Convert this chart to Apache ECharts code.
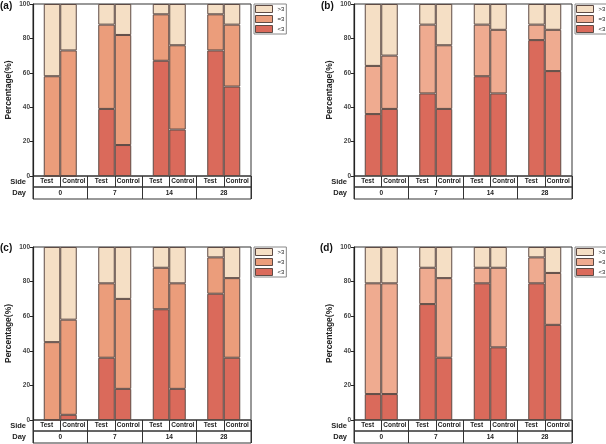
<!DOCTYPE html>
<html lang="en">
  <head>
    <meta charset="UTF-8" />
    <title>Percentage by day</title>
    <script src="https://cdn.jsdelivr.net/npm/echarts@6/dist/echarts.min.js"></script>
    <style>
      body { margin: 0; background: #fff; }
    </style>
  </head>
  <body>
    <div id="main" style="width: 606px; height: 444px"></div>
    <script>
      var days = ["0", "7", "14", "28"];
      var sides = ["Test", "Control"];
      var levels = ["<3", "=3", ">3"];

      // (a)
      var aTestLt = [0, 39, 67, 73];
      var aTestEq = [58, 49, 27, 21];
      var aTestGt = [42, 12, 6, 6];
      var aCtrlLt = [0, 18, 27, 52];
      var aCtrlEq = [73, 64, 49, 36];
      var aCtrlGt = [27, 18, 24, 12];
      // (b)
      var bTestLt = [36, 48, 58, 79];
      var bTestEq = [28, 40, 30, 9];
      var bTestGt = [36, 12, 12, 12];
      var bCtrlLt = [39, 39, 48, 61];
      var bCtrlEq = [31, 37, 37, 24];
      var bCtrlGt = [30, 24, 15, 15];
      // (c)
      var cTestLt = [0, 36, 64, 73];
      var cTestEq = [45, 43, 24, 21];
      var cTestGt = [55, 21, 12, 6];
      var cCtrlLt = [3, 18, 18, 36];
      var cCtrlEq = [55, 52, 61, 46];
      var cCtrlGt = [42, 30, 21, 18];
      // (d)
      var dTestLt = [15, 67, 79, 79];
      var dTestEq = [64, 21, 9, 15];
      var dTestGt = [21, 12, 12, 6];
      var dCtrlLt = [15, 36, 42, 55];
      var dCtrlEq = [64, 46, 46, 30];
      var dCtrlGt = [21, 18, 12, 15];

      var font = "Liberation Sans";
      var edge = "#5e4b45";
      var ltColor = "#da6a5b";
      var gtColor = "#f5dfc5";

      var panels = [
        { title: "(a)", tx: 0, ty: 1, left: 33, top: 4, h: 172, eq: "#eb9d7b",
          test: [aTestLt, aTestEq, aTestGt], ctrl: [aCtrlLt, aCtrlEq, aCtrlGt] },
        { title: "(b)", tx: 321, ty: 1, left: 354, top: 4, h: 172, eq: "#efab90",
          test: [bTestLt, bTestEq, bTestGt], ctrl: [bCtrlLt, bCtrlEq, bCtrlGt] },
        { title: "(c)", tx: 0, ty: 243, left: 33, top: 247, h: 173, eq: "#eb9d7b",
          test: [cTestLt, cTestEq, cTestGt], ctrl: [cCtrlLt, cCtrlEq, cCtrlGt] },
        { title: "(d)", tx: 320, ty: 243, left: 354, top: 247, h: 173, eq: "#efab90",
          test: [dTestLt, dTestEq, dTestGt], ctrl: [dCtrlLt, dCtrlEq, dCtrlGt] }
      ];

      var sideLabels = [];
      days.forEach(function () {
        sideLabels.push(sides[0], sides[1]);
      });

      var option = {
        animation: false,
        textStyle: { fontFamily: font },
        title: [], grid: [], xAxis: [], yAxis: [], legend: [], series: []
      };

      panels.forEach(function (p, i) {
        var w = 218;
        var colors = [ltColor, p.eq, gtColor];
        var g = 3 * i;
        option.title.push({
          text: p.title, left: p.tx, top: p.ty, padding: 0,
          textStyle: { fontSize: 10, fontWeight: "bold", color: "#111", fontFamily: font }
        });
        var box = { show: true, borderColor: "#333", borderWidth: 1, backgroundColor: "transparent" };
        option.grid.push(Object.assign({ left: p.left, top: p.top, width: w, height: p.h }, box));
        option.grid.push(Object.assign({ left: p.left, top: p.top + p.h, width: w, height: 11 }, box));
        option.grid.push(Object.assign({ left: p.left, top: p.top + p.h + 11, width: w, height: 12 }, box));

        option.xAxis.push({
          type: "category", gridIndex: g, data: days,
          axisLine: { show: false }, axisTick: { show: false }, axisLabel: { show: false }
        });
        var rowAxis = function (gi, data) {
          return {
            type: "category", gridIndex: gi, data: data,
            axisLine: { show: false }, axisTick: { show: false },
            splitLine: { show: true, interval: 0, lineStyle: { color: "#333", width: 1 } },
            axisLabel: {
              inside: true, interval: 0, margin: 5.5, verticalAlign: "middle",
              fontSize: 6.5, fontWeight: "bold", color: "#222"
            }
          };
        };
        option.xAxis.push(rowAxis(g + 1, sideLabels));
        option.xAxis.push(rowAxis(g + 2, days));

        option.yAxis.push({
          type: "value", gridIndex: g, min: 0, max: 100, interval: 20,
          axisLine: { show: true, lineStyle: { color: "#222", width: 1.2 } },
          axisTick: { show: true, length: 3, lineStyle: { color: "#222" } },
          splitLine: { show: false },
          axisLabel: { fontSize: 6.5, fontWeight: "bold", color: "#444", margin: 3 },
          name: "Percentage(%)", nameLocation: "middle", nameGap: 20,
          nameTextStyle: { fontSize: 8.5, fontWeight: "bold", color: "#222" }
        });
        var rowName = function (gi, label) {
          return {
            type: "category", gridIndex: gi, data: [label],
            axisLine: { show: false }, axisTick: { show: false },
            axisLabel: { fontSize: 7.5, fontWeight: "bold", color: "#222", margin: 7 }
          };
        };
        option.yAxis.push(rowName(g + 1, "Side"));
        option.yAxis.push(rowName(g + 2, "Day"));

        option.legend.push({
          left: p.left + w + 3, top: p.top, orient: "vertical",
          itemWidth: 17, itemHeight: 7, itemGap: 2, padding: [1, 2, 1, 1],
          borderColor: "#888", borderWidth: 1, selectedMode: false, icon: "rect",
          textStyle: { fontSize: 6, color: "#222" },
          data: [
            { name: ">3", itemStyle: { color: gtColor, borderColor: edge, borderWidth: 1 } },
            { name: "=3", itemStyle: { color: p.eq, borderColor: edge, borderWidth: 1 } },
            { name: "<3", itemStyle: { color: ltColor, borderColor: edge, borderWidth: 1 } }
          ]
        });

        [p.test, p.ctrl].forEach(function (set, s) {
          set.forEach(function (vals, k) {
            option.series.push({
              type: "bar", name: levels[k],
              xAxisIndex: g, yAxisIndex: g,
              stack: "p" + i + "s" + s,
              data: vals, barWidth: 16.5, barGap: "0%",
              itemStyle: { color: colors[k], borderColor: edge, borderWidth: 1 }
            });
          });
        });
      });

      var myChart = echarts.init(document.getElementById("main"));
      myChart.setOption(option);
    </script>
  </body>
</html>
